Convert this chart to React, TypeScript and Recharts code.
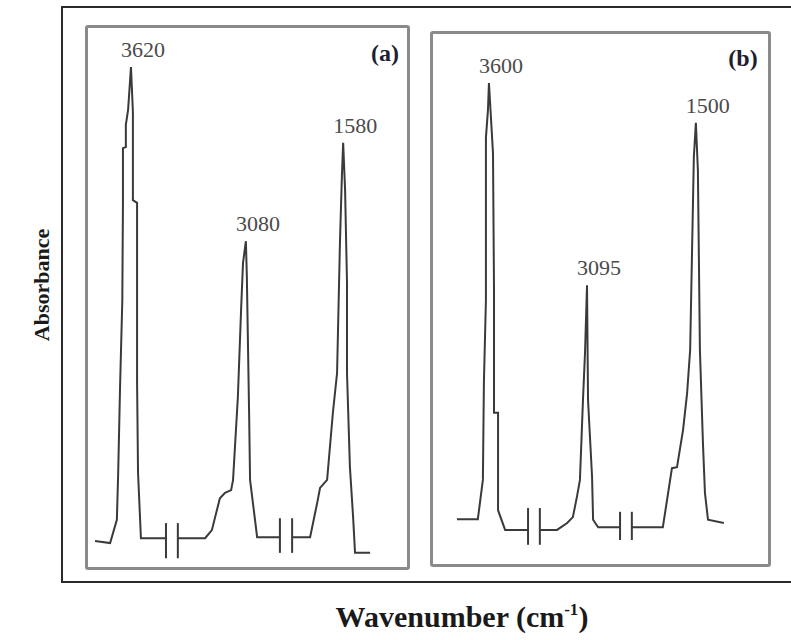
import { LineChart, Line, XAxis, YAxis, ReferenceDot } from 'recharts';

// positions are in arbitrary spectral units (0-100 across each panel), y is relative absorbance (0-1)
type Pt = { x: number; y: number | null };

const toPts = (rows: [number, number | null][]): Pt[] => rows.map(([x, y]) => ({ x, y }));

const spectrumA = toPts([
  [2.5, 0.05], [7.2, 0.046], [9.3, 0.089], [9.7, 0.172], [10.3, 0.335], [11.0, 0.495],
  [11.2, 0.675], [11.2, 0.776], [12.1, 0.778], [12.1, 0.819], [12.8, 0.847], [13.7, 0.926],
  [14.3, 0.843], [14.3, 0.68], [15.6, 0.675], [15.6, 0.344], [15.9, 0.176], [16.8, 0.055],
  [24.6, 0.055], [26.4, null], [28.3, 0.055], [36.8, 0.055], [38.9, 0.07], [41.4, 0.129],
  [43.0, 0.139], [44.9, 0.144], [45.5, 0.163], [47.0, 0.316], [48.0, 0.477], [48.6, 0.564],
  [49.5, 0.604], [49.8, 0.538], [50.5, 0.287], [50.8, 0.163], [53.0, 0.057], [60.1, 0.057],
  [62.0, null], [63.9, 0.057], [69.5, 0.057], [71.7, 0.12], [72.6, 0.148], [74.8, 0.163],
  [76.6, 0.287], [77.9, 0.36], [78.8, 0.601], [79.4, 0.723], [79.8, 0.786], [80.4, 0.699],
  [81.0, 0.527], [81.0, 0.36], [81.9, 0.187], [82.9, 0.094], [83.5, 0.028], [88.2, 0.028],
]);

const spectrumB = toPts([
  [7.4, 0.086], [13.6, 0.086], [15.1, 0.16], [15.4, 0.342], [16.0, 0.498], [16.0, 0.803],
  [16.6, 0.855], [16.9, 0.906], [18.1, 0.774], [18.4, 0.517], [18.4, 0.286], [19.6, 0.286],
  [19.6, 0.103], [21.7, 0.066], [28.5, 0.066], [30.2, null], [32.0, 0.066], [37.1, 0.066],
  [40.1, 0.079], [41.8, 0.09], [43.0, 0.128], [43.9, 0.16], [44.8, 0.31], [45.4, 0.398],
  [46.0, 0.526], [46.3, 0.31], [47.5, 0.165], [47.8, 0.085], [49.3, 0.071], [55.8, 0.071],
  [57.5, null], [59.3, 0.071], [68.5, 0.071], [71.2, 0.182], [72.7, 0.184], [74.5, 0.254],
  [75.7, 0.323], [76.6, 0.404], [77.7, 0.767], [78.3, 0.831], [78.9, 0.742], [79.2, 0.573],
  [79.5, 0.404], [80.4, 0.229], [81.0, 0.135], [81.9, 0.085], [86.6, 0.079],
]);

// axis-break marks "| |" on the baseline: [x, yLow, yHigh]
const breaksA: [number, number, number][] = [
  [24.6, 0.018, 0.083], [28.3, 0.018, 0.083],
  [60.1, 0.028, 0.092], [63.9, 0.028, 0.092],
];
const breaksB: [number, number, number][] = [
  [28.5, 0.038, 0.107], [32.0, 0.038, 0.107],
  [55.8, 0.047, 0.1], [59.3, 0.047, 0.1],
];

const peaksA = [
  { label: '3620', x: 13.7, y: 0.926 },
  { label: '3080', x: 49.5, y: 0.604 },
  { label: '1580', x: 79.8, y: 0.786 },
];
const peaksB = [
  { label: '3600', x: 16.9, y: 0.906 },
  { label: '3095', x: 46.0, y: 0.526 },
  { label: '1500', x: 78.3, y: 0.831 },
];

const LINE = '#3a3a3a';
const SERIF = '"Liberation Serif", "Times New Roman", serif';

function Panel({
  left, top, width, height, data, breaks, peaks, tag, tagLeft, tagTop,
}: {
  left: number; top: number; width: number; height: number;
  data: Pt[]; breaks: [number, number, number][];
  peaks: { label: string; x: number; y: number }[];
  tag: string; tagLeft: number; tagTop: number;
}) {
  return (
    <>
      <div
        style={{
          position: 'absolute', left: left - 2, top: top - 2, width: width + 4, height: height + 4,
          border: '3px solid #8a8a8a', borderRadius: 3, boxSizing: 'border-box',
        }}
      />
      <div style={{ position: 'absolute', left, top, width, height }}>
        <LineChart width={width} height={height} margin={{ top: 0, right: 0, bottom: 0, left: 0 }}>
          <XAxis type="number" dataKey="x" domain={[0, 100]} hide />
          <YAxis type="number" domain={[0, 1]} hide />
          <Line
            data={data}
            dataKey="y"
            type="linear"
            stroke={LINE}
            strokeWidth={2}
            dot={false}
            connectNulls={false}
            isAnimationActive={false}
          />
          {breaks.map(([bx, lo, hi], i) => (
            <Line
              key={i}
              data={[{ x: bx, y: lo }, { x: bx, y: hi }]}
              dataKey="y"
              stroke={LINE}
              strokeWidth={2}
              dot={false}
              isAnimationActive={false}
            />
          ))}
          {peaks.map((p) => (
            <ReferenceDot
              key={p.label}
              x={p.x}
              y={p.y}
              r={1}
              fill="none"
              stroke="none"
              label={{
                content: (props: any) => {
                  const vb = props.viewBox || {};
                  const cx = (vb.x ?? 0) + (vb.width ?? 0) / 2;
                  const cy = (vb.y ?? 0) + (vb.height ?? 0) / 2;
                  return (
                    <text
                      x={cx + 12}
                      y={cy - 10}
                      textAnchor="middle"
                      fontFamily={SERIF}
                      fontSize={22}
                      fill="#4a4a4a"
                    >
                      {p.label}
                    </text>
                  );
                },
              }}
            />
          ))}
        </LineChart>
      </div>
      <div
        style={{
          position: 'absolute', left: tagLeft - 30, top: tagTop - 14, width: 60, height: 28,
          lineHeight: '28px', textAlign: 'center', fontFamily: SERIF, fontWeight: 700,
          fontSize: 24, color: '#1e1e30',
        }}
      >
        {tag}
      </div>
    </>
  );
}

export default function App() {
  return (
    <div
      style={{
        position: 'absolute', left: 0, top: 0, width: 791, height: 640, overflow: 'hidden',
        background: '#fff',
      }}
    >
      {/* outer frame, right edge runs off the picture */}
      <div
        style={{
          position: 'absolute', left: 61, top: 6, width: 760, height: 577,
          border: '2px solid #2a2a2a', boxSizing: 'border-box',
        }}
      />
      <Panel
        left={87} top={27} width={321} height={541}
        data={spectrumA} breaks={breaksA} peaks={peaksA}
        tag="(a)" tagLeft={385} tagTop={53}
      />
      <Panel
        left={432} top={33} width={337} height={532}
        data={spectrumB} breaks={breaksB} peaks={peaksB}
        tag="(b)" tagLeft={743} tagTop={58}
      />
      <div
        style={{
          position: 'absolute', left: 42 - 100, top: 285 - 11, width: 200, height: 22,
          lineHeight: '22px', textAlign: 'center', transform: 'rotate(-90deg)',
          fontFamily: SERIF, fontWeight: 700, fontSize: 22, color: '#1a1a1a',
        }}
      >
        Absorbance
      </div>
      <div
        style={{
          position: 'absolute', left: 262, top: 602, width: 400, textAlign: 'center',
          fontFamily: SERIF, fontWeight: 700, fontSize: 30, lineHeight: 1, color: '#1a1a1a',
        }}
      >
        Wavenumber (cm<sup style={{ fontSize: 17, lineHeight: 0, verticalAlign: '0.7em' }}>-1</sup>)
      </div>
    </div>
  );
}
